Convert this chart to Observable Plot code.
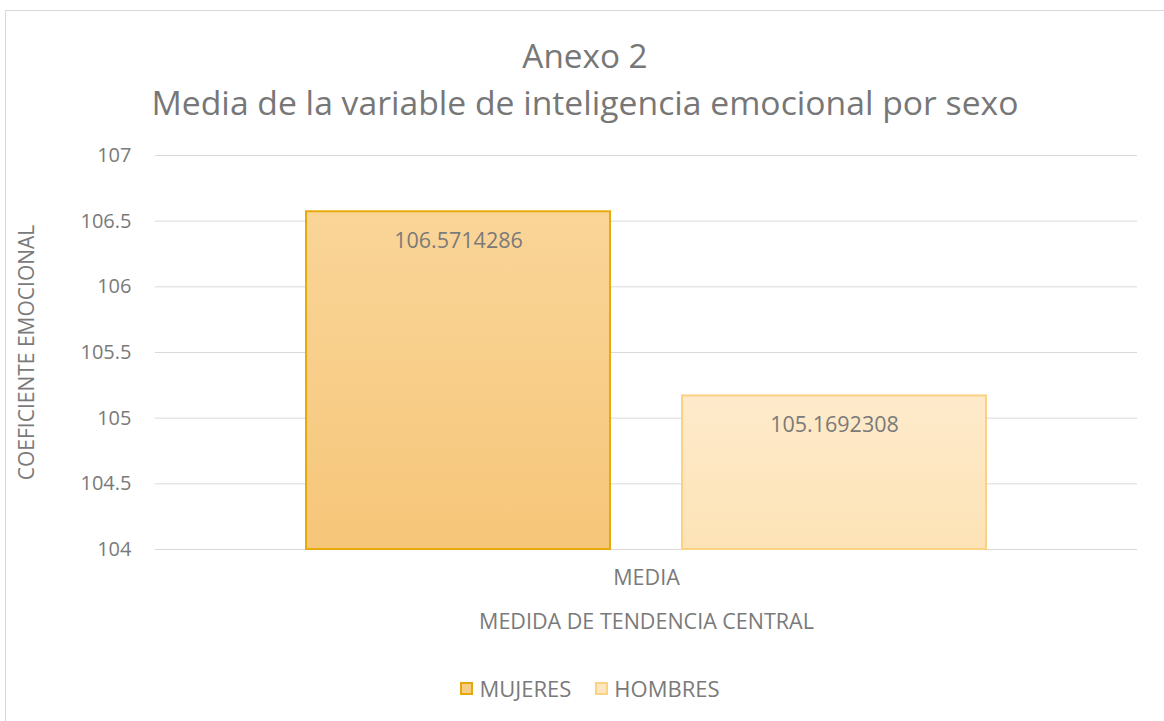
<!DOCTYPE html>
<html>
<head>
<meta charset="utf-8">
<script src="https://cdn.jsdelivr.net/npm/d3@7"></script>
<script src="https://cdn.jsdelivr.net/npm/@observablehq/plot@0.6"></script>
<style>
  html, body { margin: 0; padding: 0; background: #fff; overflow: hidden; }
  #wrap { position: relative; width: 1164px; height: 721px; font-family: "Open Sans", sans-serif; }
  #frame { position: absolute; left: 5px; top: 10px; width: 1200px; height: 800px; border: 1px solid #d9d9d9; box-sizing: border-box; }
  .title { position: absolute; left: 0; width: 1170px; text-align: center; color: #777; white-space: nowrap; line-height: 44px; }
  #chart { position: absolute; left: 0; top: 0; }
  #legend { position: absolute; top: 673px; left: 0; width: 1180px; display: flex; justify-content: center; gap: 24px; font-size: 22px; line-height: 30px; color: #7a7a7a; }
  .lg { display: flex; align-items: center; gap: 6px; }
  .sw { width: 9px; height: 9px; border: 2px solid; }
</style>
</head>
<body>
<div id="wrap">
  <div id="frame"></div>
  <div class="title" id="t1" style="top:33px;font-size:33.3px;">Anexo 2</div>
  <div class="title" id="t2" style="top:80px;font-size:33.7px;">Media de la variable de inteligencia emocional por sexo</div>
  <div id="chart"></div>
  <div id="legend">
    <div class="lg"><span class="sw" style="background:#f8cd86;border-color:#e3a90c"></span><span>MUJERES</span></div>
    <div class="lg"><span class="sw" style="background:#fee6c0;border-color:#fbd184"></span><span>HOMBRES</span></div>
  </div>
</div>
<script>
// ---- data ----
const categories = ["MEDIA"];
const series = ["MUJERES", "HOMBRES"];
const values = [106.5714286, 105.1692308];
const valueLabels = ["106.5714286", "105.1692308"];
const yTicks = [104, 104.5, 105, 105.5, 106, 106.5, 107];
const yBase = 104;
const seriesFill = ["url(#gM)", "url(#gH)"];
const seriesStroke = ["#e6ab0b", "#fbd283"];

const data = series.map((s, i) => ({
  cat: categories[0], series: s, value: values[i], label: valueLabels[i],
  base: yBase, fill: seriesFill[i], stroke: seriesStroke[i]
}));

const chart = Plot.plot({
  width: 1164, height: 721,
  marginTop: 155, marginBottom: 172, marginLeft: 155, marginRight: 27,
  style: { fontFamily: "Open Sans, sans-serif", background: "transparent", color: "#7a7a7a", overflow: "visible" },
  fx: { domain: categories, padding: 0, label: null },
  x: { domain: series, axis: null, paddingInner: 0.191, paddingOuter: 0.399 },
  y: { domain: [yTicks[0], yTicks[yTicks.length - 1]] },
  marks: [
    Plot.gridY(yTicks, { stroke: "#d9d9d9", strokeOpacity: 1, strokeWidth: 1 }),
    Plot.barY(data, {
      fx: "cat", x: "series", y1: "base", y2: "value",
      fill: d => d.fill, stroke: d => d.stroke, strokeWidth: 2, inset: 0
    }),
    Plot.text(data, {
      fx: "cat", x: "series", y: "value", text: "label",
      dy: 29, fontSize: 21.5, fill: "#7a7a7a"
    }),
    Plot.axisY({
      ticks: yTicks, tickSize: 0, tickPadding: 24, fontSize: 20,
      tickFormat: d => String(d), label: null
    }),
    Plot.axisY({
      ticks: [], tickSize: 0, fontSize: 21,
      label: "COEFICIENTE EMOCIONAL", labelAnchor: "center", labelArrow: "none", labelOffset: 136
    }),
    Plot.axisFx({
      anchor: "bottom", tickSize: 0, tickPadding: 20, fontSize: 21.5,
      label: "MEDIDA DE TENDENCIA CENTRAL", labelAnchor: "center", labelArrow: "none", labelOffset: 79
    })
  ]
});

const ns = "http://www.w3.org/2000/svg";
const defs = document.createElementNS(ns, "defs");
defs.innerHTML = `
  <linearGradient id="gM" x1="0" y1="0" x2="0" y2="1">
    <stop offset="0" stop-color="#fad598"/>
    <stop offset="1" stop-color="#f6c679"/>
  </linearGradient>
  <linearGradient id="gH" x1="0" y1="0" x2="0" y2="1">
    <stop offset="0" stop-color="#feeacb"/>
    <stop offset="1" stop-color="#fde3b6"/>
  </linearGradient>`;
chart.insertBefore(defs, chart.firstChild);
document.getElementById("chart").appendChild(chart);
</script>
</body>
</html>
